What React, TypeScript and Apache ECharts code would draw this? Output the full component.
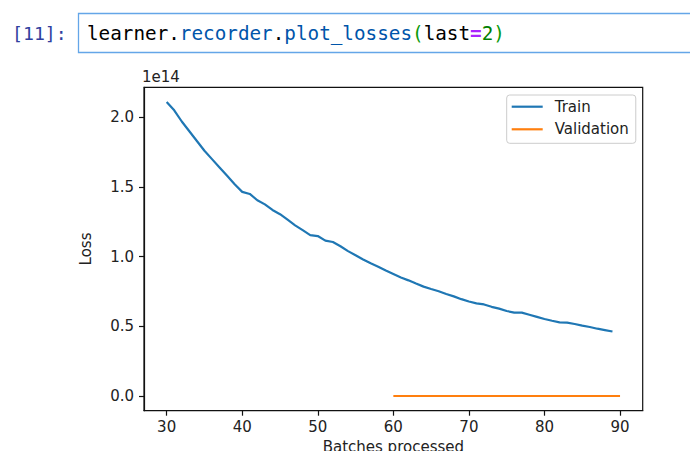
import React, { useEffect, useRef } from "react";
import * as echarts from "echarts";

const promptLabel = "[11]:";
const trainName = "Train";
const validName = "Validation";
const yScaleLabel = "1e14";
const xAxisTitle = "Batches processed";
const yAxisTitle = "Loss";

const trainBatches = [
  30, 31, 32, 33, 34, 35, 36, 37, 38, 39,
  40, 41, 42, 43, 44, 45, 46, 47, 48, 49,
  50, 51, 52, 53, 54, 55, 56, 57, 58, 59,
  60, 61, 62, 63, 64, 65, 66, 67, 68, 69,
  70, 71, 72, 73, 74, 75, 76, 77, 78, 79,
  80, 81, 82, 83, 84, 85, 86, 87, 88, 89,
];
// loss values in units of 1e14
const trainLoss = [
  2.11, 2.05, 1.97, 1.9, 1.83, 1.76, 1.7, 1.64, 1.58, 1.52,
  1.465, 1.45, 1.405, 1.375, 1.335, 1.305, 1.265, 1.225, 1.19, 1.155,
  1.148, 1.115, 1.105, 1.075, 1.04, 1.01, 0.98, 0.952, 0.928, 0.9,
  0.875, 0.85, 0.83, 0.807, 0.785, 0.768, 0.752, 0.732, 0.715, 0.695,
  0.678, 0.665, 0.657, 0.64, 0.627, 0.61, 0.598, 0.598, 0.583, 0.568,
  0.553, 0.54, 0.528, 0.526, 0.517, 0.505, 0.495, 0.483, 0.473, 0.463,
];
const validBatches = [60, 90];
const validLoss = [0.0, 0.0];

const xTicks = [30, 40, 50, 60, 70, 80, 90];
const yTicks = [0, 0.5, 1.0, 1.5, 2.0];

const FONT = "DejaVu Sans";
const MONO = "DejaVu Sans Mono";
const TXT = "#222222";
const FS = 15;

export default function App() {
  const ref = useRef<HTMLDivElement>(null);
  useEffect(() => {
    if (!ref.current) return;
    const chart = echarts.init(ref.current, undefined, { renderer: "svg" });
    const trainData = trainBatches.map((b, i) => [b, trainLoss[i]]);
    const validData = validBatches.map((b, i) => [b, validLoss[i]]);
    chart.setOption({
      animation: false,
      backgroundColor: "#ffffff",
      grid: {
        left: 144,
        top: 87.3,
        width: 498.7,
        height: 323.4,
        containLabel: false,
        outerBoundsMode: "none",
        show: true,
        borderColor: "#111",
        borderWidth: 1.2,
        backgroundColor: "transparent",
      },
      xAxis: {
        type: "value",
        min: 27,
        max: 93,
        name: xAxisTitle,
        nameLocation: "middle",
        nameGap: 28,
        nameTextStyle: { fontFamily: FONT, fontSize: FS, color: TXT },
        axisLine: { show: true, onZero: false, lineStyle: { color: "#111", width: 1.2 } },
        axisTick: { show: true, inside: false, length: 5, lineStyle: { color: "#111", width: 1.2 }, customValues: xTicks },
        axisLabel: {
          customValues: xTicks,
          margin: 9,
          fontFamily: FONT,
          fontSize: FS,
          color: TXT,
          formatter: (v: number) => String(v),
        },
        splitLine: { show: false },
      },
      yAxis: {
        type: "value",
        min: -0.1055,
        max: 2.2155,
        name: yAxisTitle,
        nameLocation: "middle",
        nameGap: 51,
        nameRotate: 90,
        nameTextStyle: { fontFamily: FONT, fontSize: FS, color: TXT },
        axisLine: { show: true, onZero: false, lineStyle: { color: "#111", width: 1.2 } },
        axisTick: { show: true, inside: false, length: 5, lineStyle: { color: "#111", width: 1.2 }, customValues: yTicks },
        axisLabel: {
          customValues: yTicks,
          margin: 10,
          fontFamily: FONT,
          fontSize: FS,
          color: TXT,
          formatter: (v: number) => v.toFixed(1),
        },
        splitLine: { show: false },
      },
      legend: {
        orient: "vertical",
        left: 506.7,
        top: 95,
        data: [trainName, validName],
        icon: "rect",
        itemWidth: 31,
        itemHeight: 2.2,
        itemGap: 5.6,
        padding: [3.2, 7, 5.5, 5],
        backgroundColor: "rgba(255,255,255,0.8)",
        borderColor: "#cccccc",
        borderWidth: 1,
        borderRadius: 3,
        textStyle: { fontFamily: FONT, fontSize: FS, color: TXT, lineHeight: 17, padding: [0, 0, 0, 7] },
      },
      series: [
        {
          name: trainName,
          type: "line",
          data: trainData,
          color: "#1f77b4",
          showSymbol: false,
          symbol: "none",
          lineStyle: { color: "#1f77b4", width: 2.2 },
        },
        {
          name: validName,
          type: "line",
          data: validData,
          color: "#ff7f0e",
          showSymbol: false,
          symbol: "none",
          lineStyle: { color: "#ff7f0e", width: 2.2 },
        },
      ],
      graphic: [
        {
          type: "rect",
          shape: { x: 78.5, y: 13.5, width: 640, height: 39 },
          style: { fill: "#ffffff", stroke: "#64a6e8", lineWidth: 1.3 },
          silent: true,
        },
        {
          type: "text",
          x: 12,
          y: 33,
          style: {
            text: promptLabel,
            fontFamily: MONO,
            fontSize: 18.2,
            fill: "#303F9F",
            verticalAlign: "middle",
          },
        },
        {
          type: "text",
          x: 87,
          y: 33,
          style: {
            text: "{v|learner}{v|.}{p|recorder}{v|.}{p|plot_losses}{b|(}{v|last}{o|=}{n|2}{b|)}",
            verticalAlign: "middle",
            fontFamily: MONO,
            fontSize: 19.3,
            rich: {
              v: { fill: "#000000", fontFamily: MONO, fontSize: 19.3 },
              p: { fill: "#0055aa", fontFamily: MONO, fontSize: 19.3 },
              b: { fill: "#0a9a0a", fontFamily: MONO, fontSize: 19.3 },
              o: { fill: "#aa22ff", fontFamily: MONO, fontSize: 19.3, fontWeight: "bold" },
              n: { fill: "#008000", fontFamily: MONO, fontSize: 19.3 },
            },
          },
        },
        {
          type: "text",
          x: 142,
          y: 84.5,
          style: {
            text: yScaleLabel,
            fontFamily: FONT,
            fontSize: FS,
            fill: TXT,
            verticalAlign: "bottom",
          },
        },
      ],
    });
    return () => chart.dispose();
  }, []);
  return (
    <div
      ref={ref}
      style={{ position: "fixed", left: 0, top: 0, width: 690, height: 451, background: "#fff" }}
    />
  );
}
